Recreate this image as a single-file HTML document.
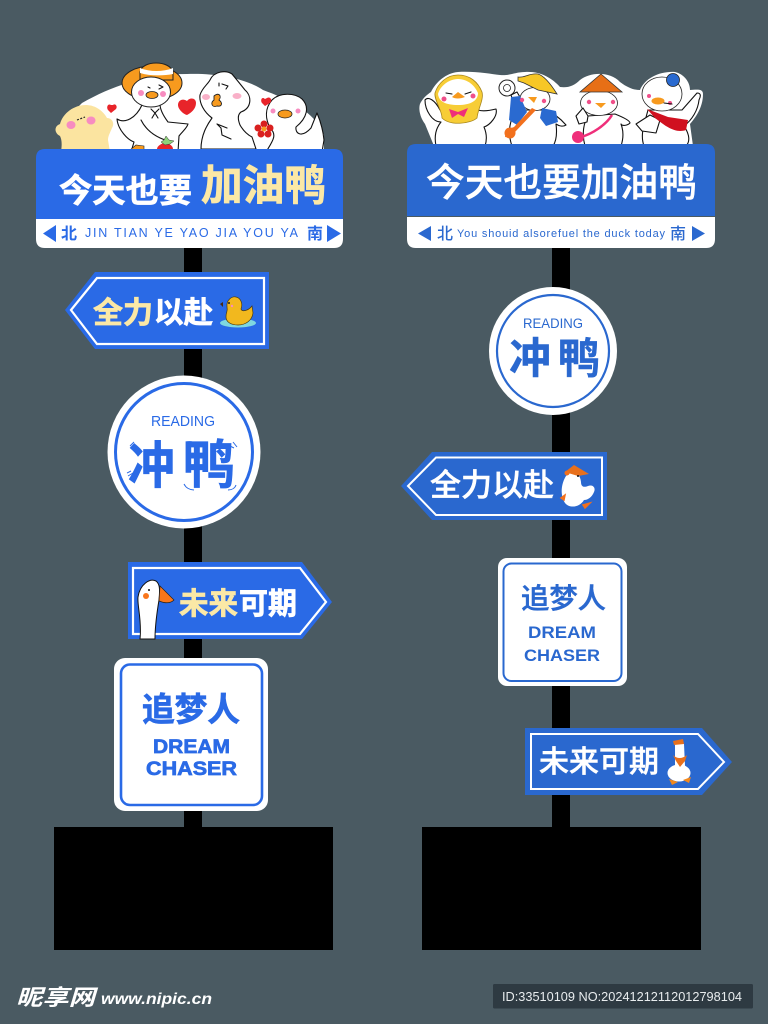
<!DOCTYPE html>
<html><head><meta charset="utf-8"><style>
html,body{margin:0;padding:0;background:#4a5a62;width:768px;height:1024px;overflow:hidden}
svg{display:block}
text{font-family:"Liberation Sans","Noto Sans CJK SC",sans-serif}
.c{font-family:"Noto Sans CJK SC","WenQuanYi Zen Hei",sans-serif;font-weight:700}
.m{font-family:"Noto Sans CJK SC","WenQuanYi Zen Hei",sans-serif;font-weight:500}
.k{fill:none;stroke:#111;stroke-width:1.1;stroke-linecap:round;stroke-linejoin:round}
.o{fill:#fff;stroke:#111;stroke-width:1.1;stroke-linejoin:round}
.b1{stroke:#2a6ae6;stroke-width:.7}
.b2{stroke:#2a68cf;stroke-width:.5}
.w{stroke:#fff;stroke-width:.7}
.w2{stroke:#fff;stroke-width:.5}
.y{stroke:#fbe8a6;stroke-width:.7}
</style></head><body>
<svg width="768" height="1024" viewBox="0 0 768 1024" xmlns="http://www.w3.org/2000/svg">
<rect width="768" height="1024" fill="#4a5a62"/>
<!-- poles and bases -->
<rect x="184" y="240" width="18" height="590" fill="#000"/>
<rect x="552" y="240" width="18" height="590" fill="#000"/>
<rect x="54" y="827" width="279" height="123" fill="#000"/>
<rect x="422" y="827" width="279" height="123" fill="#000"/>

<!-- LEFT dome and ducks -->
<path d="M62 152 L70 115 L82 103 C115 84 150 74 187 74 C215 73 245 78 263 90 C290 100 315 112 324 135 L324 152 Z" fill="#fff"/>
<!-- chick -->
<path d="M61 152 C62 145 62 140 60 136 C54 133 54 126 60 124 C63 113 74 105 86 105 C96 105 104 112 107 118 C112 118 115 123 112 128 C110 133 108 136 108 140 L110 152 Z" fill="#fbe4a0"/>
<ellipse cx="71" cy="125" rx="4.500" ry="4" fill="#f78cc0"/><ellipse cx="91" cy="120.500" rx="4.500" ry="4" fill="#f78cc0"/>
<path d="M77 120 L85 117" stroke="#222" stroke-width="1.200" stroke-dasharray="2 1.500"/>
<path d="M111 105 C108 103 106 107 108 110 L111 113 L116 109 C118 106 115 103 113 105 Z" fill="#e8242a"/>
<!-- hat duck -->
<path class="o" d="M142 105 C136 118 125 124 117 119 C118 130 128 140 134 142 L131 152 L178 152 L179 136 C182 132 187 128 188 124 L168 122 C162 114 160 108 160 104 Z"/>
<path class="k" d="M141 120 C146 130 155 138 172 142"/>
<ellipse cx="152" cy="83" rx="30" ry="17" fill="#f79a1e" stroke="#222" stroke-width="1"/>
<path d="M140 72 C142 60 170 60 173 72 L173 80 L140 80 Z" fill="#f79a1e" stroke="#222" stroke-width="1"/>
<path d="M140 68 C150 72 163 72 173 68 L173 74 C163 76 150 76 140 73 Z" fill="#fff"/>
<ellipse cx="151" cy="92" rx="19.500" ry="15" fill="#fff" stroke="#222" stroke-width="1"/>
<circle cx="141" cy="93" r="3" fill="#f78cc0"/><circle cx="163" cy="94" r="3" fill="#f78cc0"/>
<ellipse cx="152" cy="95" rx="6" ry="3.500" fill="#f79a1e" stroke="#222" stroke-width=".8"/>
<path d="M148 87 L150 88 M159 85 L163 87 L159 89" class="k"/>
<path d="M151 109 L155 113 L159 109 M155 113 L152 118 M155 113 L158 118" class="k"/>
<path d="M130 150 L136 145 L144 146 L144 150 Z" fill="#f79a1e" stroke="#222" stroke-width=".6"/>
<path d="M157 149 C157 146 162 143 165 143 C169 143 173 146 173 149 Z" fill="#e8242a"/>
<path d="M166 136 L169 140 L174 141 L170 144 L165 145 L161 142 L164 140 Z" fill="#8fd27a" stroke="#333" stroke-width=".5"/>
<path d="M187 115 C183 114 178 109 178 105 C178 100 183 98 187 101 C190 97 196 98 196 103 C196 109 191 113 187 115 Z" fill="#e8242a"/>
<!-- middle duck -->
<path class="o" d="M201 149 C201 135 207 125 212 118 C204 112 199 103 200 95 C202 88 208 84 210 80 C214 71 226 70 232 74 C237 80 241 85 245 90 C252 96 252 108 241 112 C237 115 238 120 240 125 C244 132 248 135 252 137 L256 149 Z"/>
<ellipse cx="206" cy="97" rx="4" ry="3" fill="#f9b0c8"/><ellipse cx="237" cy="96" rx="4.500" ry="3" fill="#f9b0c8"/>
<path d="M214 96 C219 92 222 96 219 100 C223 103 222 107 217 106 C212 108 210 103 214 100 Z" fill="#f79a1e" stroke="#222" stroke-width=".9"/>
<path d="M222 84 L228 86 L226 89 M219 83 L219 86" class="k"/>
<path d="M227 128 L217 124 L221 128 L222 135 L231 139" class="k"/>
<!-- right duck -->
<path class="o" d="M266 152 C272 142 278 135 270 128 C265 118 265 108 272 100 C280 92 295 93 302 99 C310 107 307 118 296 127 C295 134 302 138 311 128 L317 113 C320 120 323 130 324 140 L322 152 Z"/>
<circle cx="273" cy="111" r="2.500" fill="#f78cc0"/><circle cx="298" cy="111" r="2.500" fill="#f78cc0"/>
<ellipse cx="285" cy="114" rx="7" ry="4" fill="#f79a1e" stroke="#222" stroke-width=".8"/>
<path d="M265 99 C262 96 260 100 262 103 L265 106 L270 103 C273 100 270 96 267 98 Z" fill="#e8242a"/>
<g fill="#d9201f"><circle cx="264" cy="124" r="3.500"/><circle cx="270" cy="128" r="3.500"/><circle cx="268" cy="134" r="3.500"/><circle cx="261" cy="134" r="3.500"/><circle cx="258" cy="128" r="3.500"/></g><circle cx="264" cy="129" r="2.500" fill="#f79a1e"/>

<!-- LEFT header -->
<path d="M45 149 H334 Q343 149 343 158 V219 H36 V158 Q36 149 45 149 Z" fill="#2a6ae6"/>
<path d="M36 219 H343 V239 Q343 248 334 248 H45 Q36 248 36 239 Z" fill="#fff"/>
<text class="c w" x="59" y="202" font-size="33" textLength="133" lengthAdjust="spacingAndGlyphs" fill="#fff">今天也要</text>
<text class="c y" x="201" y="200" font-size="42" textLength="125" lengthAdjust="spacingAndGlyphs" fill="#fbe8a6">加油鸭</text>
<path d="M56 225 V242 L43 233.500 Z M327 225 V242 L341 233.500 Z" fill="#2a6ae6"/>
<text class="c" x="61" y="239" font-size="16" fill="#2a6ae6">北</text>
<text class="c" x="307" y="239" font-size="16" fill="#2a6ae6">南</text>
<text x="85" y="237" font-size="12.500" textLength="213" fill="#2a6ae6">JIN TIAN YE YAO JIA YOU YA</text>

<!-- LEFT arrow 1 -->
<polygon points="65,310 95,272 269,272 269,349 95,349" fill="#2a6ae6"/>
<polygon points="71,310 97,278 264,278 264,344 97,344" fill="none" stroke="#fff" stroke-width="2.200"/>
<text class="c y" x="93" y="323" font-size="30" textLength="60" lengthAdjust="spacingAndGlyphs" fill="#fbe8a6">全力</text>
<text class="c w" x="154" y="323" font-size="30" textLength="59" lengthAdjust="spacingAndGlyphs" fill="#fff">以赴</text>
<ellipse cx="238" cy="323" rx="18" ry="4.500" fill="#7fd8e0"/>
<g fill="#f2b81e" stroke="#4a3a10" stroke-width=".7">
<path d="M226 317 C226 311 228 312 227 307 C226 300 232 296 236 297 C241 298 243 304 241 309 C242 312 248 311 252 306 L253 313 C252 321 245 325 238 325 C231 325 226 322 226 317 Z"/>
</g>
<circle cx="229" cy="303" r="1" fill="#222"/><circle cx="232" cy="306" r="1.200" fill="#f78cc0"/>
<path d="M223 302 L220 304 L223 307 Z" fill="#4a2a10"/>

<!-- LEFT circle -->
<circle cx="184" cy="452" r="76.500" fill="#fff"/>
<circle cx="184" cy="452" r="68.500" fill="none" stroke="#2a6ae6" stroke-width="3"/>
<text x="151" y="426" font-size="15" textLength="64" lengthAdjust="spacingAndGlyphs" fill="#2a6ae6">READING</text>
<text class="c b1" x="128" y="483" font-size="50" textLength="47" lengthAdjust="spacingAndGlyphs" fill="#2a6ae6">冲</text>
<text class="c b1" x="183" y="483" font-size="52" textLength="52" lengthAdjust="spacingAndGlyphs" fill="#2a6ae6">鸭</text>
<path d="M130 446 L134 442 M128 476 L133 473 M127 473 L131 471 M186 442 C190 441 194 442 197 444 M226 444 L234 448 M233 442 L237 447 M184 484 C186 488 190 490 194 490 M228 490 C232 490 235 488 236 485" fill="none" stroke="#2a6ae6" stroke-width="1"/>

<!-- LEFT arrow 2 -->
<polygon points="128,562 302,562 332,602 302,639 128,639" fill="#2a6ae6"/>
<polygon points="133,568 300,568 326,602 300,634 133,634" fill="none" stroke="#fff" stroke-width="2.200"/>
<path d="M140 639 C142 620 137 605 138 597 C140 584 150 578 156 581 C160 584 160 590 159 600 C157 612 155 625 155 639 Z" fill="#fff" stroke="#111" stroke-width="1"/>
<path d="M160 586 L174 600 C170 604 164 603 159 601 Z" fill="#f9761b" stroke="#222" stroke-width=".7"/>
<circle cx="146" cy="596" r="3" fill="#f9761b"/><circle cx="149" cy="590" r="1" fill="#111"/>
<text class="c y" x="179" y="614" font-size="30" textLength="59" lengthAdjust="spacingAndGlyphs" fill="#fbe8a6">未来</text>
<text class="c w" x="239" y="614" font-size="30" textLength="58" lengthAdjust="spacingAndGlyphs" fill="#fff">可期</text>

<!-- LEFT square -->
<rect x="114" y="658" width="154" height="153" rx="11" fill="#fff"/>
<rect x="121" y="664.500" width="141" height="140.500" rx="9" fill="none" stroke="#2a6ae6" stroke-width="2.600"/>
<text class="c b1" x="142" y="721" font-size="33" textLength="98" lengthAdjust="spacingAndGlyphs" fill="#2a6ae6">追梦人</text>
<text class="b1" x="153" y="753" font-size="19.500" font-weight="700" textLength="77" lengthAdjust="spacingAndGlyphs" fill="#2a6ae6">DREAM</text>
<text class="b1" x="146" y="775" font-size="19.500" font-weight="700" textLength="91" lengthAdjust="spacingAndGlyphs" fill="#2a6ae6">CHASER</text>

<!-- RIGHT white backing -->
<path d="M434 146 L425 124 C419 116 418 106 421 102 C424 97 428 94 431 92 C436 82 446 73 458 72 C475 71 490 74 500 75 C510 76 515 72 525 72 C540 71 552 78 560 87 C568 88 574 86 580 80 C590 72 610 71 620 82 C628 88 634 90 640 90 C645 78 660 71 675 72 C684 74 690 82 690 90 C695 90 703 88 703 94 C703 108 695 118 690 124 L693 146 Z" fill="#fff"/>
<!-- A -->
<path class="o" d="M436 146 C434 136 436 128 441 122 C432 122 425 110 425 100 C428 96 435 100 440 110 L478 110 C484 112 492 110 496 109 C498 116 490 125 484 127 C487 134 487 140 485 146 Z"/>
<path d="M458 75 C470 75 478 82 482 92 C484 100 478 108 477 118 C470 124 450 126 442 118 C442 110 434 100 435 93 C438 83 447 75 458 75 Z" fill="#f7cd36" stroke="#a8861a" stroke-width=".8"/>
<path d="M458 79 C468 79 475 86 478 93 C478 101 470 105 458 105 C446 105 439 102 438 94 C440 86 449 79 458 79 Z" fill="#fff"/>
<path d="M452 97 L458 92 L465 97 C460 99 455 99 452 97 Z" fill="#f79a1e"/>
<circle cx="444" cy="99" r="2.500" fill="#f04f8a"/><circle cx="473" cy="96" r="2.500" fill="#f04f8a"/>
<path d="M446 93 L452 94 M465 94 L471 92" class="k"/>
<path d="M449 109 L458 112 L468 108 L464 117 L458 114 L452 118 Z" fill="#ef2f7a"/>
<!-- B -->
<path class="o" d="M512 146 C507 132 510 118 517 110 L545 110 C552 112 560 118 566 125 C563 127 559 126 556 124 C557 132 557 140 553 146 Z"/>
<circle cx="507" cy="88" r="8" fill="#fff" stroke="#222" stroke-width="1"/><circle cx="507" cy="88" r="3.500" fill="none" stroke="#222" stroke-width=".8"/>
<path class="o" d="M511 95 L517 92 L524 104 L516 110 Z"/>
<ellipse cx="535" cy="99" rx="15" ry="11.500" fill="#fff" stroke="#222" stroke-width=".8"/>
<path d="M518 77 C526 78 528 73 538 74 C545 76 552 86 557 94 L538 90 L524 83 L518 81 Z" fill="#f7c726" stroke="#333" stroke-width=".8"/>
<path d="M511 97 L520 96 L527 112 L517 125 L509 120 Z" fill="#2a6ad0"/>
<path d="M542 108 L556 111 L558 122 L546 126 L540 118 Z" fill="#2a6ad0"/>
<path d="M536 110 L515 132 L512 138 L505 137 L506 130 L514 127 L532 108 Z" fill="#f2701d"/>
<circle cx="510" cy="133" r="5.500" fill="#f2701d"/>
<path d="M528 97 L537 97 L534 103 Z" fill="#f79a1e"/>
<circle cx="522" cy="100" r="2.200" fill="#f04f8a"/><circle cx="544" cy="101" r="2.200" fill="#f04f8a"/>
<!-- C -->
<path class="o" d="M585 146 C582 135 583 124 588 116 L615 114 C620 116 630 120 630 123 C627 126 622 126 621 124 C624 132 623 140 621 146 Z"/>
<ellipse cx="599" cy="103" rx="18.500" ry="12.500" fill="#fff" stroke="#222" stroke-width=".8"/>
<path d="M601 74 L622 92 L580 92 Z" fill="#e76f16" stroke="#333" stroke-width=".8"/>
<path d="M595 103 L606 103 L601 108 Z" fill="#f79a1e"/>
<circle cx="589" cy="102" r="2.200" fill="#f04f8a"/><circle cx="613" cy="102" r="2.200" fill="#f04f8a"/>
<path d="M612 115 C606 125 592 134 581 137" fill="none" stroke="#ef2f7a" stroke-width="2.500"/>
<circle cx="578" cy="137" r="6" fill="#ef2f7a"/>
<path class="o" d="M576 116 L583 108 L588 116 L587 122 L579 124 Z"/>
<!-- D -->
<path class="o" d="M644 146 C640 135 644 125 648 110 L682 110 L697 93 C701 93 701 96 699 100 C698 110 692 120 684 126 C690 135 690 142 686 146 Z"/>
<path class="o" d="M650 115 L660 120 L656 133 L642 131 L636 124 Z"/>
<ellipse cx="662" cy="94" rx="20" ry="17" fill="#fff" stroke="#222" stroke-width=".8"/>
<circle cx="673" cy="80" r="6.500" fill="#2a6ad0" stroke="#222" stroke-width=".8"/>
<ellipse cx="658" cy="101" rx="6.500" ry="3.500" fill="#f79a1e"/>
<circle cx="649" cy="96" r="2" fill="#f04f8a"/><circle cx="670" cy="103" r="2" fill="#f04f8a"/>
<path d="M664 103 L672 104" class="k"/>
<path d="M647 109 L668 117 L688 120 L686 130 C675 134 664 125 655 118 Z" fill="#d0101f"/>

<!-- RIGHT header -->
<path d="M416 144 H706 Q715 144 715 153 V216 H407 V153 Q407 144 416 144 Z" fill="#2a68cf"/>
<path d="M407 217 H715 V239 Q715 248 706 248 H416 Q407 248 407 239 Z" fill="#fff"/>
<text class="m w2" x="426" y="196" font-size="38.500" textLength="271" lengthAdjust="spacingAndGlyphs" fill="#fff">今天也要加油鸭</text>
<path d="M431 226 V241 L418 233.500 Z M692 226 V241 L705 233.500 Z" fill="#2a68cf"/>
<text class="m" x="437" y="239" font-size="16" fill="#2a68cf">北</text>
<text class="m" x="670" y="239" font-size="16" fill="#2a68cf">南</text>
<text x="457" y="237" font-size="11" textLength="208" fill="#2a68cf">You shouid alsorefuel the duck today</text>

<!-- RIGHT circle -->
<circle cx="553" cy="351" r="64" fill="#fff"/>
<circle cx="553" cy="351" r="56" fill="none" stroke="#2a68cf" stroke-width="2.200"/>
<text x="523" y="328" font-size="13.500" textLength="60" lengthAdjust="spacingAndGlyphs" fill="#2a68cf">READING</text>
<text class="c b2" x="509" y="373" font-size="42" textLength="42" lengthAdjust="spacingAndGlyphs" fill="#2a68cf">冲</text>
<text class="c b2" x="558" y="373" font-size="42" textLength="42" lengthAdjust="spacingAndGlyphs" fill="#2a68cf">鸭</text>

<!-- RIGHT arrow 1 -->
<polygon points="401,486 432,452 607,452 607,520 432,520" fill="#2a68cf"/>
<polygon points="408,486 436,457.500 602,457.500 602,515 436,515" fill="none" stroke="#fff" stroke-width="2"/>
<text class="m w2" x="430" y="496" font-size="31" textLength="124" lengthAdjust="spacingAndGlyphs" fill="#fff">全力以赴</text>
<path d="M566 476 C572 470 580 472 581 482 C581 486 583 488 588 486 C593 484 596 488 594 492 C592 497 588 500 584 500 C580 507 570 509 565 503 C560 495 561 484 566 476 Z" fill="#fff"/>
<path d="M565 472 L574 465 L589 474 L578 476 Z" fill="#e8701c"/>
<circle cx="567" cy="473" r="2.500" fill="#f2701d"/><circle cx="578" cy="476" r="1" fill="#111"/>
<path d="M561 498 L565 495 L564 500 Z M583 505 L590 503 L585 508 Z" fill="#f2701d" stroke="#f2701d" stroke-width="1.500"/>

<!-- RIGHT square -->
<rect x="498" y="558" width="129" height="128" rx="9" fill="#fff"/>
<rect x="503.500" y="563.500" width="118" height="117.500" rx="8" fill="none" stroke="#2a68cf" stroke-width="2"/>
<text class="m b2" x="521" y="608" font-size="28" textLength="85" lengthAdjust="spacingAndGlyphs" fill="#2a68cf">追梦人</text>
<text x="528" y="638" font-size="17" font-weight="700" textLength="68" lengthAdjust="spacingAndGlyphs" fill="#2a68cf">DREAM</text>
<text x="524" y="661" font-size="17" font-weight="700" textLength="76" lengthAdjust="spacingAndGlyphs" fill="#2a68cf">CHASER</text>

<!-- RIGHT arrow 2 -->
<polygon points="525,728 702,728 732,762 702,795 525,795" fill="#2a68cf"/>
<polygon points="531,734 698,734 724,762 698,789 531,789" fill="none" stroke="#fff" stroke-width="2"/>
<text class="m w2" x="539" y="772" font-size="30" textLength="120" lengthAdjust="spacingAndGlyphs" fill="#fff">未来可期</text>
<ellipse cx="679" cy="773" rx="11.500" ry="8.500" fill="#fff"/>
<path d="M675 744 L684 744 L685 766 L675 766 Z" fill="#fff"/>
<path d="M673 741 L683 739 L684 744 L674 745 Z" fill="#e8701c"/>
<path d="M673 755 C677 759 682 759 687 755 L685 761 L680 767 L676 761 Z" fill="#e8701c"/>
<path d="M669 779 L678 782 L672 785 Z M683 780 L691 777 L689 783 Z" fill="#f2881d"/>

<!-- watermark -->
<text class="c" x="16" y="1005" font-size="22" textLength="79" lengthAdjust="spacingAndGlyphs" font-style="italic" fill="#fff">昵享网</text>
<text x="101" y="1004" font-size="15.500" font-weight="700" font-style="italic" textLength="111" lengthAdjust="spacingAndGlyphs" fill="#fff">www.nipic.cn</text>
<rect x="493" y="984" width="260" height="24.500" rx="1.500" fill="#2e3a42"/>
<text x="502" y="1001" font-size="13" textLength="240" lengthAdjust="spacingAndGlyphs" fill="#e8ecee">ID:33510109 NO:20241212112012798104</text>
</svg>
</body></html>
